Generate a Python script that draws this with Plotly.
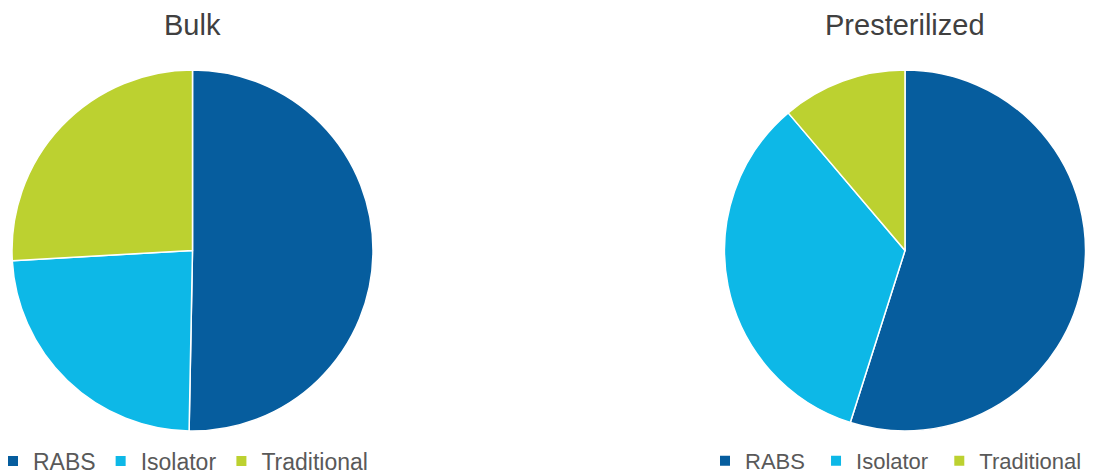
import plotly.graph_objects as go

labels = ["RABS", "Isolator", "Traditional"]
bulk_values = [50.3, 23.8, 25.9]
presterilized_values = [54.9, 33.9, 11.2]
titles = ["Bulk", "Presterilized"]
colors = ["#065d9e", "#0db8e7", "#bcd130"]

# the page body has an 8px margin, so the figure is sized/positioned to compensate
OFF = 8
W, H = 1096 - OFF, 474 - OFF

def px_x(x):
    return (x - OFF) / W

def px_y(y):
    return 1 - (y - OFF) / H

def dom(x0, x1, ytop, ybot):
    return dict(x=[px_x(x0), px_x(x1)], y=[px_y(ybot), px_y(ytop)])

fig = go.Figure()
fig.add_trace(go.Pie(
    labels=labels, values=bulk_values, sort=False, direction="clockwise", rotation=0,
    marker=dict(colors=colors, line=dict(color="white", width=1.5)),
    textinfo="none", hoverinfo="label+percent", domain=dom(12, 373, 70, 431),
    legend="legend",
))
# trailing space keeps the second legend's entries distinct from the first's
fig.add_trace(go.Pie(
    labels=[l + " " for l in labels], values=presterilized_values, sort=False,
    direction="clockwise", rotation=0,
    marker=dict(colors=colors, line=dict(color="white", width=1.5)),
    textinfo="none", hoverinfo="label+percent", domain=dom(724.5, 1085.5, 70, 431),
    legend="legend2",
))

def legend_style(size):
    return dict(orientation="h", font=dict(family="Liberation Sans, Arial", size=size, color="#595959"),
                bgcolor="rgba(0,0,0,0)", xanchor="left", yanchor="middle",
                itemsizing="constant", tracegroupgap=0, itemwidth=30)

title_font = dict(family="Liberation Sans, Arial", size=29, color="#404040")
fig.update_layout(
    width=W, height=H, margin=dict(l=0, r=0, t=0, b=0, autoexpand=False),
    paper_bgcolor="white", plot_bgcolor="white",
    legend=dict(x=px_x(-7), y=px_y(461), **legend_style(23)),
    legend2=dict(x=px_x(705), y=px_y(461), **legend_style(22)),
    annotations=[
        dict(text=titles[0], x=px_x(192.5), y=px_y(25), xref="paper", yref="paper",
             xanchor="center", yanchor="middle", showarrow=False, font=title_font),
        dict(text=titles[1], x=px_x(905), y=px_y(25), xref="paper", yref="paper",
             xanchor="center", yanchor="middle", showarrow=False, font=title_font),
    ],
)
fig.write_html("out.html")
